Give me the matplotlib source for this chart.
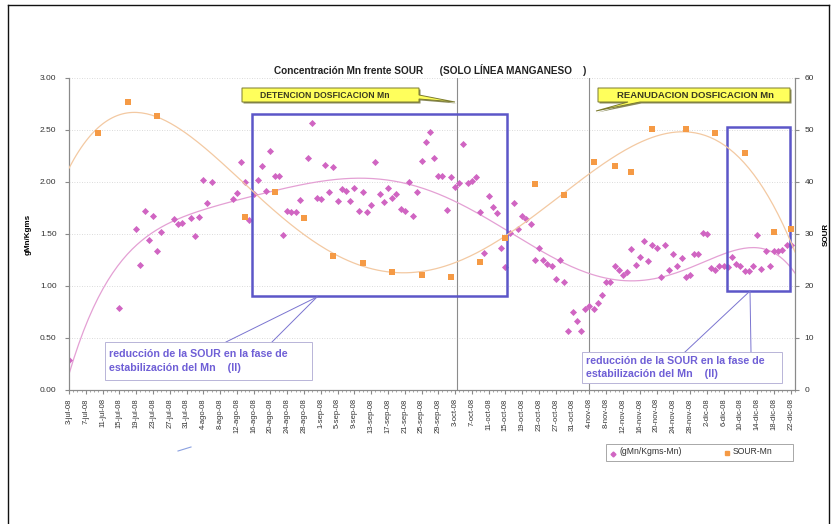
import datetime as dt
import numpy as np
import matplotlib
matplotlib.use('Agg')
import matplotlib.pyplot as plt
from matplotlib.patches import Rectangle, Polygon
from matplotlib.lines import Line2D

plt.rcParams['font.family'] = ['Liberation Sans', 'DejaVu Sans']

START = dt.date(2008, 7, 3)
MESES = ['ene', 'feb', 'mar', 'abr', 'may', 'jun', 'jul', 'ago', 'sep', 'oct', 'nov', 'dic']

# Mn concentration (gMn/Kgms), days counted from 3-jul-08
mn_days = [0, 12, 16, 17, 18, 19, 20, 21, 22, 25, 26, 27, 29, 30, 31, 32, 33, 34,
           39, 40, 41, 42, 43, 44, 45, 46, 47, 48, 49, 50, 51, 52, 53, 54, 55,
           57, 58, 59, 60, 61, 62, 63, 64, 65, 66, 67, 68, 69, 70, 71, 72, 73, 74,
           75, 76, 77, 78, 79, 80, 81, 82, 83, 84, 85, 86, 87, 88, 89, 90, 91, 92,
           93, 94, 95, 96, 97, 98, 99, 100, 101, 102, 103, 104, 105, 106, 107, 108,
           109, 110, 111, 112, 113, 114, 115, 116, 117, 118, 119, 120, 121, 122,
           123, 124, 125, 126, 127, 128, 129, 130, 131, 132, 133, 134, 135, 136,
           137, 138, 139, 140, 141, 142, 143, 144, 145, 146, 147, 148, 149, 150,
           151, 152, 153, 154, 155, 156, 157, 158, 159, 160, 161, 162, 163, 164,
           165, 166, 167, 168, 169, 170, 171, 172]
mn_values = [0.29, 0.79, 1.55, 1.20, 1.72, 1.44, 1.67, 1.34, 1.52, 1.64, 1.60, 1.61,
             1.65, 1.48, 1.66, 2.02, 1.80, 2.00,
             1.84, 1.89, 2.19, 2.00, 1.63, 1.88, 2.02, 2.15, 1.91, 2.30, 2.06, 2.06,
             1.49, 1.72, 1.71, 1.71, 1.83,
             2.23, 2.57, 1.85, 1.84, 2.16, 1.90, 2.14, 1.82, 1.93, 1.91, 1.82, 1.94,
             1.72, 1.90, 1.71, 1.78, 2.19, 1.88, 1.81, 1.94, 1.85, 1.88, 1.74, 1.72,
             2.00, 1.67, 1.90, 2.20, 2.38, 2.48, 2.23, 2.06, 2.06, 1.73, 2.05, 1.95,
             1.99, 2.37, 1.99, 2.01, 2.05, 1.71, 1.32, 1.87, 1.76, 1.70, 1.37, 1.18,
             1.51, 1.80, 1.55, 1.67, 1.64, 1.60, 1.25, 1.37, 1.25, 1.21, 1.19, 1.07,
             1.25, 1.04, 0.57, 0.75, 0.66, 0.57, 0.78, 0.81, 0.78, 0.84, 0.91, 1.04,
             1.04, 1.19, 1.15, 1.11, 1.13, 1.36, 1.20, 1.28, 1.43, 1.24, 1.39, 1.37,
             1.09, 1.39, 1.15, 1.31, 1.19, 1.27, 1.09, 1.11, 1.31, 1.31, 1.51, 1.50,
             1.17, 1.15, 1.19, 1.19, 1.18, 1.28, 1.21, 1.19, 1.14, 1.14, 1.19, 1.49,
             1.16, 1.34, 1.19, 1.34, 1.34, 1.35, 1.39, 1.39]

# SOUR, days counted from 3-jul-08
sour_days = [7, 14, 21, 42, 49, 56, 63, 70, 77, 84, 91, 98, 104, 111, 118, 125,
             130, 134, 139, 147, 154, 161, 168, 172]
sour_values = [49.4, 55.3, 52.7, 33.2, 38.0, 33.1, 25.8, 24.5, 22.7, 22.1, 21.7,
               24.7, 29.2, 39.7, 37.5, 43.9, 43.1, 42.0, 50.2, 50.2, 49.4, 45.5,
               30.4, 31.0]

W, H = 839, 524


def fxy(x, y):
    # pixel position -> figure fraction
    return x / W, 1 - y / H


fig = plt.figure(figsize=(W / 100, H / 100), dpi=100)
ax = fig.add_axes([69 / W, 1 - 390 / H, (795 - 69) / W, (390 - 78) / H])
ax2 = ax.twinx()

PINK = '#d065c2'
ORANGE = '#f59a45'

ax.scatter(mn_days, mn_values, marker='D', s=13, color=PINK, zorder=4, linewidths=0)
ax2.scatter(sour_days, sour_values, marker='s', s=17, color=ORANGE, zorder=4, linewidths=0)

# polynomial trend lines (order 6)
xs = np.linspace(0, 173, 300)
p_mn = np.polyfit(np.array(mn_days) / 100, mn_values, 6)
ax.plot(xs, np.polyval(p_mn, xs / 100), color='#e4a0d4', lw=0.9, zorder=3)
p_sour = np.polyfit(np.array(sour_days) / 100, sour_values, 6)
ax2.plot(xs, np.polyval(p_sour, xs / 100), color='#f3c9a2', lw=0.9, zorder=3)

ax.set_xlim(0, 173)
ax.set_ylim(0, 3)
ax2.set_ylim(0, 60)
ax.set_yticks(np.arange(0, 3.01, 0.5))
ax.set_yticklabels([f'{v:.2f}' for v in np.arange(0, 3.01, 0.5)])
ax2.set_yticks(range(0, 61, 10))

tick_days = np.arange(0, 173, 4)
tick_labels = []
for d in tick_days:
    f = START + dt.timedelta(days=int(d))
    tick_labels.append(f'{f.day}-{MESES[f.month - 1]}-08')
ax.set_xticks(tick_days)
ax.set_xticklabels(tick_labels, rotation=90, fontsize=5.5, color='#333333')
ax.set_xticks(np.arange(0, 174, 1), minor=True)

ax.grid(axis='y', color='#cfcfcf', linestyle=(0, (1, 2)), lw=0.6)
ax.set_axisbelow(True)
for a in (ax, ax2):
    a.spines['top'].set_visible(False)
    for s in ('left', 'right', 'bottom'):
        a.spines[s].set_color('#8a8a8a')
        a.spines[s].set_linewidth(0.8)
ax.tick_params(axis='y', labelsize=6, length=3, color='#8a8a8a', pad=6, labelcolor='#333333')
ax2.tick_params(axis='y', labelsize=6, length=3, color='#8a8a8a', pad=4, labelcolor='#333333')
ax.tick_params(axis='x', which='major', length=3, color='#8a8a8a', pad=3)
ax.tick_params(axis='x', which='minor', length=1.5, color='#9a9a9a')

ax.set_ylabel('gMn/Kgms', fontsize=5.8, fontweight='bold', labelpad=6)
ax2.set_ylabel('SOUR', fontsize=5.8, fontweight='bold', labelpad=6)

# phase markers
for d in (92.4, 123.8):
    ax.axvline(d, color='#8c8c8c', lw=0.8, zorder=2)

# highlighted zones
BLUE = '#5c56c8'
ax.add_patch(Rectangle((43.6, 0.90), 104.3 - 43.6, 2.65 - 0.90, fill=False,
                       edgecolor=BLUE, lw=1.8, zorder=5))
ax.add_patch(Rectangle((156.7, 0.955), 171.8 - 156.7, 2.53 - 0.955, fill=False,
                       edgecolor=BLUE, lw=1.8, zorder=5))

# title
x0, y0 = fxy(430, 70)
fig.text(x0, y0, 'Concentración Mn frente SOUR      (SOLO LÍNEA MANGANESO    )',
         ha='center', va='center', fontsize=7.2, fontweight='bold', color='#222222')


def draw_callout(pts):
    fig.patches.append(Polygon([(p[0] + 1.5 / W, p[1] - 1.5 / H) for p in pts],
                               closed=True, transform=fig.transFigure,
                               facecolor='#8a8a5a', edgecolor='none', zorder=6))
    fig.patches.append(Polygon(pts, closed=True, transform=fig.transFigure,
                               facecolor='#ffff5c', edgecolor='#7a7a30', lw=0.7, zorder=7))


# stop of dosing: tail leaves the right edge
draw_callout([fxy(242, 88), fxy(419, 88), fxy(419, 95), fxy(455, 102), fxy(419, 99),
              fxy(419, 102), fxy(242, 102)])
tx0, ty0 = fxy(260, 95)
fig.text(tx0, ty0, 'DETENCION DOSFICACION Mn', ha='left', va='center', fontsize=6.2,
         fontweight='bold', color='#3a3a20', zorder=8)

# restart of dosing: tail leaves the lower edge
draw_callout([fxy(598, 88), fxy(790, 88), fxy(790, 102), fxy(640, 102), fxy(596, 111),
              fxy(628, 102), fxy(598, 102)])
tx0, ty0 = fxy(617, 95)
fig.text(tx0, ty0, 'REANUDACION DOSFICACION Mn', ha='left', va='center', fontsize=6.8,
         fontweight='bold', color='#3a3a20', zorder=8)

# notes linked to the highlighted zones
NOTE = '#6f5fd6'
note_text = 'reducción de la SOUR en la fase de\nestabilización del Mn    (II)'
for (bx1, by1, bx2, by2), legs, tip in [
        ((105, 342, 312, 380), [(226, 342), (272, 342)], (317, 297)),
        ((582, 352, 782, 383), [(685, 352), (751, 352)], (750, 291))]:
    bx, byy = fxy(bx1, by2)
    fig.patches.append(Rectangle((bx, byy), (bx2 - bx1) / W, (by2 - by1) / H,
                                 transform=fig.transFigure, facecolor='white',
                                 edgecolor='#b8b4d8', lw=0.7, zorder=6))
    tx, ty = fxy(bx1 + 4, (by1 + by2) / 2)
    fig.text(tx, ty, note_text, ha='left', va='center', fontsize=7.7,
             fontweight='bold', color=NOTE, linespacing=1.45, zorder=7)
    for lx, ly in legs:
        a, b = fxy(lx, ly)
        c, d = fxy(*tip)
        fig.lines.append(Line2D([a, c], [b, d], transform=fig.transFigure,
                                color='#7a74d0', lw=0.7, zorder=6))

# small stray stroke under the plot
a, b = fxy(178, 451)
c, d = fxy(191, 447)
fig.lines.append(Line2D([a, c], [b, d], transform=fig.transFigure, color='#8aa0e0', lw=0.8))

# legend
lx, ly = fxy(606, 461)
fig.patches.append(Rectangle((lx, ly), (793 - 606) / W, (461 - 444) / H,
                             transform=fig.transFigure, facecolor='white',
                             edgecolor='#9a9a9a', lw=0.6, zorder=6))
mx, my = fxy(613, 454)
fig.lines.append(Line2D([mx], [my], transform=fig.transFigure, marker='D', markersize=2.5,
                        color=PINK, lw=0, zorder=7))
tx, ty = fxy(620, 452)
fig.text(tx, ty, '(gMn/Kgms-Mn)', fontsize=6.2, ha='left', va='center', color='#333333', zorder=7)
mx, my = fxy(727, 453)
fig.lines.append(Line2D([mx], [my], transform=fig.transFigure, marker='s', markersize=3,
                        color=ORANGE, lw=0, zorder=7))
tx, ty = fxy(733, 452)
fig.text(tx, ty, 'SOUR-Mn', fontsize=6.2, ha='left', va='center', color='#333333', zorder=7)

# chart frame
for (xa, ya), (xb, yb) in [((8, 5), (829, 5)), ((8, 5), (8, 524)), ((829, 5), (829, 524))]:
    a, b = fxy(xa, ya)
    c, d = fxy(xb, yb)
    fig.lines.append(Line2D([a, c], [b, d], transform=fig.transFigure, color='#111111', lw=1.0))

fig.savefig('out.png', dpi=100)
